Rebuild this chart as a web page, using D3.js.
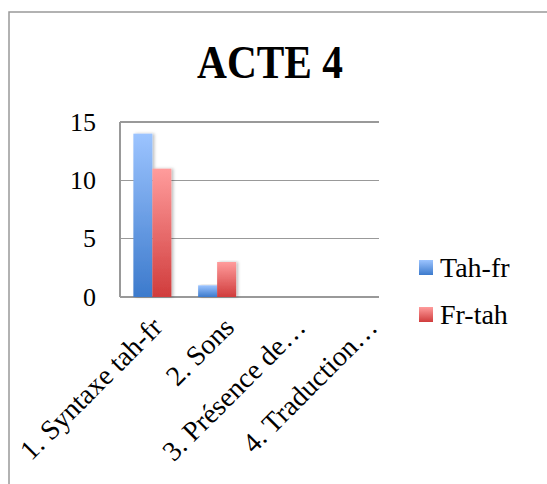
<!DOCTYPE html>
<meta charset="utf-8">
<style>
body { margin:0; background:#fff; }
text { font-family:"Liberation Serif", serif; fill:#000; }
.title { font-size:46px; font-weight:bold; text-anchor:middle; }
.axis text { font-size:26px; }
.xlab text, .legend text { font-size:28px; }
.axis path, .axis line { stroke:none; }
.grid line { stroke:#999; stroke-width:1.5px; shape-rendering:crispEdges; }
</style>
<body>
<script src="https://d3js.org/d3.v7.min.js"></script>
<script>

var categories = ["1. Syntaxe tah-fr", "2. Sons", "3. Présence de…", "4. Traduction…"];
var tahFr = [14, 1, 0, 0];
var frTah = [11, 3, 0, 0];
var seriesNames = ["Tah-fr", "Fr-tah"];
var yTicks = [0, 5, 10, 15];

var svg = d3.select("body").append("svg").attr("width", 547).attr("height", 484);

// outer frame
svg.append("rect").attr("x", 9).attr("y", 12).attr("width", 560).attr("height", 500)
	.attr("fill", "none").attr("stroke", "#999").attr("stroke-width", 1.5);

var defs = svg.append("defs");
var grads = [["blueGrad", "#9cc4ff", "#3c7acc"], ["redGrad", "#ff9c9c", "#d03c3c"]];
grads.forEach(function(g){
	var lg = defs.append("linearGradient").attr("id", g[0])
		.attr("x1", 0).attr("y1", 0).attr("x2", 0).attr("y2", 1);
	lg.append("stop").attr("offset", "0%").attr("stop-color", g[1]);
	lg.append("stop").attr("offset", "100%").attr("stop-color", g[2]);
});
var fills = ["url(#blueGrad)", "url(#redGrad)"];

var f = defs.append("filter").attr("id", "shadow").attr("x", "-20%").attr("y", "-5%").attr("width", "160%").attr("height", "115%");
f.append("feDropShadow").attr("dx", 2).attr("dy", 0).attr("stdDeviation", 1.5)
	.attr("flood-color", "#000").attr("flood-opacity", 0.25);

svg.append("text").attr("class", "title").attr("x", 270).attr("y", 78)
	.attr("textLength", 146).attr("lengthAdjust", "spacingAndGlyphs").text("ACTE 4");

var pLeft = 120, pRight = 379, pTop = 122, pBottom = 297;

var x = d3.scaleBand().domain(categories).range([pLeft, pRight]);
var xs = d3.scaleBand().domain(seriesNames).range([0, 38]);
var y = d3.scaleLinear().domain([0, 15]).range([pBottom, pTop]);
// label slots sit a little right of the bars, like the original
var xl = d3.scaleBand().domain(categories).range([pLeft + 8, pRight + 36]);

// gridlines
svg.append("g").attr("class", "grid").selectAll("line").data(yTicks).enter().append("line")
	.attr("x1", pLeft).attr("x2", pRight)
	.attr("y1", d => y(d)).attr("y2", d => y(d));
svg.append("g").attr("class", "grid").append("line")
	.attr("x1", pLeft).attr("x2", pLeft).attr("y1", y(15)).attr("y2", y(0));

// y axis
svg.append("g").attr("class", "axis").attr("transform", "translate(" + (pLeft - 24) + ",0)")
	.call(d3.axisLeft(y).tickValues(yTicks).tickSize(0).tickPadding(0));

// bars
var series = [tahFr, frTah];
series.forEach(function(vals, si){
	svg.append("g").selectAll("rect").data(vals).enter().append("rect")
		.attr("x", (d, i) => x(categories[i]) + x.bandwidth() / 2 - 19 + xs(seriesNames[si]))
		.attr("y", d => y(d))
		.attr("width", xs.bandwidth())
		.attr("height", d => y(0) - y(d))
		.attr("fill", fills[si])
		.attr("filter", "url(#shadow)")
		.style("display", d => d > 0 ? null : "none");
});

// x labels
svg.append("g").attr("class", "xlab").selectAll("text").data(categories).enter().append("text")
	.attr("text-anchor", "end")
	.attr("transform", d => "translate(" + (xl(d) + xl.bandwidth() / 2) + "," + (pBottom + 32) + ") rotate(-45)")
	.text(d => d);

// legend
var lg = svg.append("g").attr("class", "legend");
seriesNames.forEach(function(n, i){
	lg.append("rect").attr("x", 419).attr("y", 260 + i * 47).attr("width", 14).attr("height", 15).attr("fill", fills[i]);
	lg.append("text").attr("x", 440).attr("y", 277 + i * 47).text(n);
});
</script>
</body>
